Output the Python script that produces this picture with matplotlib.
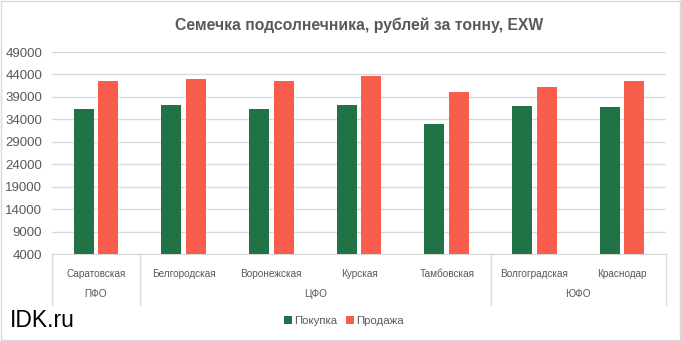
import numpy as np
import matplotlib.pyplot as plt
from matplotlib.lines import Line2D
import matplotlib.transforms as mtransforms

plt.rcParams['font.family'] = ['Liberation Sans', 'DejaVu Sans']

regions = ["Саратовская", "Белгородская", "Воронежская", "Курская",
           "Тамбовская", "Волгоградская", "Краснодар"]
districts = ["ПФО", "ЦФО", "ЮФО"]
district_sizes = [1, 4, 2]
buy = [36200, 37300, 36400, 37300, 33050, 37050, 36850]
sell = [42650, 42900, 42450, 43550, 40000, 41100, 42450]

green = "#217346"
red = "#F95D4C"
grey = "#595959"
grid = "#D9D9D9"

fig = plt.figure(figsize=(6.81, 3.41), dpi=100)
ax = fig.add_axes([0.0764, 0.255, 0.9016, 0.5925])

x = np.arange(len(regions))
w = 0.228
ax.bar(x - 0.14, buy, w, color=green, label="Покупка", zorder=3)
ax.bar(x + 0.14, sell, w, color=red, label="Продажа", zorder=3)

ax.set_xlim(-0.5, len(regions) - 0.5)
ax.set_ylim(4000, 49000)
ax.set_yticks(np.arange(4000, 49001, 5000))
ax.tick_params(axis='y', length=0, labelsize=9.5, labelcolor=grey, pad=7)
ax.set_xticks([])
ax.grid(axis='y', color=grid, linewidth=1, zorder=0)
for s in ["top", "right", "left"]:
    ax.spines[s].set_visible(False)
ax.spines["bottom"].set_color(grid)

# two-level category axis
trans = mtransforms.blended_transform_factory(ax.transData, ax.transAxes)
for i, r in enumerate(regions):
    ax.text(i, -0.1, r, transform=trans, ha='center', va='center',
            fontsize=7.2, color=grey)
edges = np.concatenate([[0], np.cumsum(district_sizes)]) - 0.5
for e in edges:
    ax.add_line(Line2D([e, e], [0, -0.25], transform=trans, color=grid,
                       linewidth=1, clip_on=False))
for d, a, b in zip(districts, edges[:-1], edges[1:]):
    ax.text((a + b) / 2, -0.2, d, transform=trans, ha='center', va='center',
            fontsize=7.2, color=grey)

fig.text(0.527, 0.925, "Семечка подсолнечника, рублей за тонну, EXW",
         ha='center', va='center', fontsize=11.3, fontweight='bold', color=grey)
fig.text(0.014, 0.06, "IDK.ru", ha='left', va='center', fontsize=16.5,
         color="black")

fig.legend(loc='center', bbox_to_anchor=(0.505, 0.06), ncol=2, frameon=False,
           fontsize=8.2, labelcolor=grey, handlelength=0.7, handleheight=0.7,
           handletextpad=0.2, columnspacing=0.8)

fig.patches.append(plt.Rectangle((0.001, 0.002), 0.997, 0.995,
                                 transform=fig.transFigure, fill=False,
                                 edgecolor=grid, linewidth=1))

fig.savefig("out.png", dpi=100)
